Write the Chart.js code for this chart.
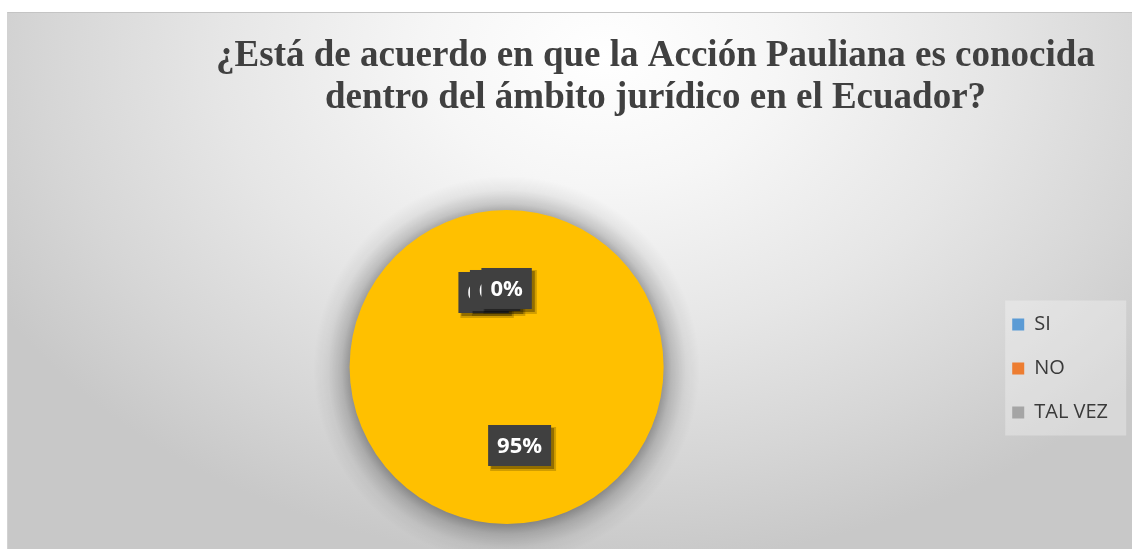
<!DOCTYPE html>
<html>
<head>
<meta charset="utf-8">
<script src="https://cdn.jsdelivr.net/npm/chart.js@4.4.0/dist/chart.umd.min.js"></script>
<style>
    body { margin: 0; background: #fff; overflow: hidden; }
    #box {
        position: absolute; left: 7px; top: 12px; width: 1124px; height: 536px;
        border-top: 1px solid #c4c4c4; border-left: 1px solid #d2d2d2;
        background: radial-gradient(ellipse 62% 95% at 53% 8%, #ffffff 0%, #f6f6f6 25%, #e6e6e6 55%, #d6d6d6 80%, #c8c8c8 100%);
    }
</style>
</head>
<body>
<div id="box"><canvas id="pieChart"></canvas></div>
<script>
    const titleLines = ["¿Está de acuerdo en que la Acción Pauliana es conocida", "dentro del ámbito jurídico en el Ecuador?"];
    const categories = ["SI", "NO", "TAL VEZ", ""];
    const percentages = [0, 0, 0, 95];
    const sliceColors = ["#5B9BD5", "#ED7D31", "#A5A5A5", "#FFC000"];

    // glow under the pie + dark data label boxes
    const pieDecor = {
        id: "pieDecor",
        afterLayout(chart) {
            chart.titleBlock.left += 84;
            chart.titleBlock.right += 84;
            const lg = chart.legend;
            lg.top += 100; lg.bottom += 100;
            lg.left -= 12; lg.right -= 12;
        },
        beforeDraw(chart) {
            const hits = chart.legend.legendHitBoxes;
            if (!hits || !hits.length) return;
            const ctx = chart.ctx;
            const first = hits[0], last = hits[hits.length - 1];
            ctx.save();
            ctx.fillStyle = "rgba(255,255,255,0.3)";
            ctx.fillRect(first.left - 7, first.top - 14, 121, last.top + last.height - first.top + 27);
            ctx.restore();
        },
        beforeDatasetsDraw(chart) {
            const arc = chart.getDatasetMeta(0).data[0];
            if (!arc) return;
            const ctx = chart.ctx;
            const r = arc.outerRadius;
            const g = ctx.createRadialGradient(arc.x, arc.y + 2, r - 4, arc.x, arc.y + 2, r + 36);
            g.addColorStop(0, "rgba(0,0,0,0.38)");
            g.addColorStop(0.3, "rgba(0,0,0,0.18)");
            g.addColorStop(0.65, "rgba(0,0,0,0.05)");
            g.addColorStop(1, "rgba(0,0,0,0)");
            ctx.save();
            ctx.fillStyle = g;
            ctx.beginPath();
            ctx.arc(arc.x, arc.y + 2, r + 36, 0, Math.PI * 2);
            ctx.fill();
            ctx.restore();
        },
        afterDatasetsDraw(chart) {
            const ctx = chart.ctx;
            const meta = chart.getDatasetMeta(0);
            ctx.save();
            ctx.font = "bold 22px 'Open Sans'";
            ctx.textAlign = "center";
            ctx.textBaseline = "middle";
            meta.data.forEach((arc, i) => {
                const p = arc.getCenterPoint();
                let x = p.x, y = p.y;
                if (percentages[i] === 0) {
                    x += (i - 2) * 11.5;
                    y += (2 - i) * 2;
                } else {
                    x += 13;
                }
                const text = percentages[i] + "%";
                const w = ctx.measureText(text).width + 18, h = 41;
                ctx.fillStyle = "rgba(0,0,0,0.18)";
                ctx.fillRect(x - w / 2 + 2, y - h / 2 + 2, w + 3, h + 3);
                ctx.fillStyle = "rgba(0,0,0,0.3)";
                ctx.fillRect(x - w / 2 + 3, y - h / 2 + 3, w, h);
                ctx.fillStyle = "#404040";
                ctx.fillRect(x - w / 2, y - h / 2, w, h);
                ctx.fillStyle = "#ffffff";
                ctx.fillText(text, x, y + 1);
            });
            ctx.restore();
        }
    };

    new Chart(document.getElementById("pieChart"), {
        type: "pie",
        data: {
            labels: categories,
            datasets: [{
                data: percentages,
                backgroundColor: sliceColors,
                borderWidth: 0,
                hoverOffset: 0,
                clip: false
            }]
        },
        options: {
            responsive: true,
            maintainAspectRatio: false,
            animation: false,
            layout: { padding: { left: 5, right: 2, top: 0, bottom: 25 } },
            plugins: {
                title: {
                    display: true,
                    text: titleLines,
                    color: "#404040",
                    font: { family: "'Liberation Serif', 'Times New Roman', serif", size: 37, weight: "bold", lineHeight: 1.135 },
                    padding: { top: 22, bottom: 91 }
                },
                legend: {
                    position: "right",
                    labels: {
                        filter: item => item.text !== "",
                        boxWidth: 12,
                        boxHeight: 12,
                        padding: 24,
                        color: "#3a3a3a",
                        font: { family: "'Open Sans', sans-serif", size: 20 }
                    }
                },
                tooltip: { enabled: false }
            }
        },
        plugins: [pieDecor]
    });
</script>
</body>
</html>
